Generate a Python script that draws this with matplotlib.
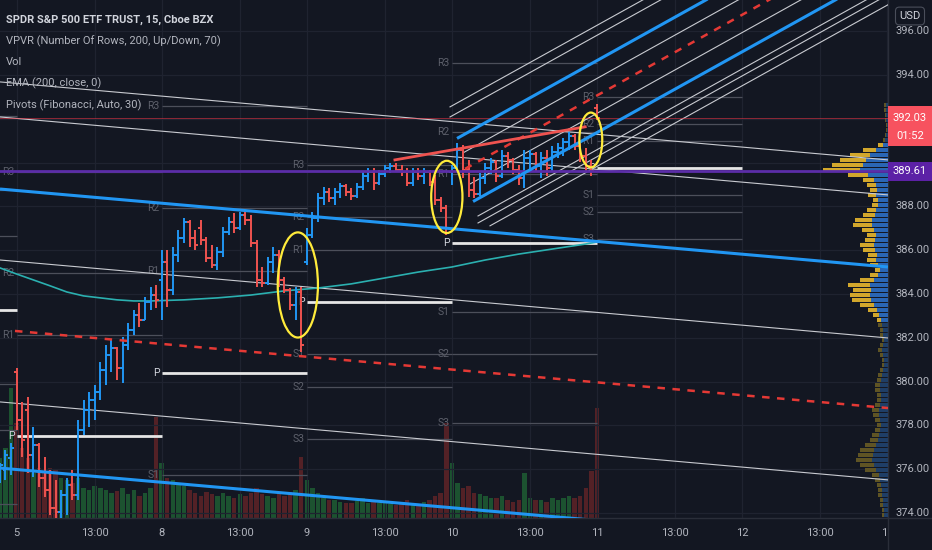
import numpy as np
import matplotlib.pyplot as plt
import matplotlib.transforms as mtransforms
from matplotlib.patches import Ellipse, Rectangle
from matplotlib.lines import Line2D

plt.rcParams['font.family'] = ['Roboto', 'DejaVu Sans']

BG = '#131722'
BAR_UP = '#2196f3'
BAR_DN = '#ef5350'
TXT = '#b2b5be'

# ---- 15 min OHLC bars, bar index 0 = first bar of the 5th ----
bar_index = list(range(-3, 105))
bar_open = [375.60, 375.96, 376.51,
            380.44, 378.25, 378.70, 376.65, 377.11, 375.60, 375.05, 374.23, 374.05, 374.82,
            375.28, 374.82, 377.79, 378.70, 379.16, 379.52, 380.53, 381.21, 381.53, 380.62,
            381.67, 382.36, 383.04, 382.81, 383.63, 383.95,
            384.64, 385.46, 384.18, 385.78, 386.56, 387.29, 386.56, 387.01, 386.47, 385.64,
            385.32, 385.92, 386.83, 387.29, 387.01, 387.61, 387.38, 386.33, 384.64, 384.50,
            385.46, 385.78, 384.64, 384.18, 383.50, 384.09,
            385.46, 386.69, 387.47, 388.38, 388.66, 388.38, 388.66, 388.93, 388.66, 388.47,
            388.89, 389.39, 389.57, 389.07, 389.48, 389.75, 389.84, 389.66, 389.57, 389.07,
            389.57, 389.39, 389.57, 389.11, 388.29, 387.93,
            389.57, 389.75, 390.57, 389.66, 388.75, 388.57, 389.30, 389.75, 390.03, 389.39,
            390.30, 390.12, 389.66, 389.30, 390.21, 390.39, 389.84, 390.21, 389.75, 390.48,
            390.67, 390.94, 391.21, 390.76, 390.30, 389.84, 392.49]
bar_high = [376.28, 376.88, 377.20,
            380.62, 379.07, 379.30, 377.93, 377.20, 376.56, 375.96, 375.51, 375.05, 375.60,
            375.96, 378.25, 379.16, 379.52, 379.84, 380.89, 381.67, 381.90, 381.58, 382.04,
            382.68, 383.27, 383.59, 383.86, 384.32, 384.41,
            386.01, 386.01, 386.15, 386.92, 387.47, 387.38, 386.92, 387.38, 386.60, 386.24,
            386.15, 387.06, 387.52, 387.70, 387.74, 387.84, 387.61, 386.47, 385.23, 385.69,
            386.15, 386.01, 384.78, 384.27, 384.32, 384.32,
            387.01, 387.74, 388.61, 388.89, 388.84, 388.84, 389.07, 389.02, 388.84, 389.07,
            389.57, 389.75, 389.75, 389.66, 389.89, 389.98, 389.98, 389.89, 389.75, 389.75,
            389.75, 389.75, 389.66, 389.43, 388.43, 388.06,
            389.89, 390.89, 390.80, 390.12, 389.34, 389.53, 389.98, 390.21, 390.12, 390.57,
            390.48, 390.21, 389.89, 390.57, 390.57, 390.48, 390.48, 390.57, 390.76, 390.89,
            391.12, 391.40, 391.31, 390.94, 390.67, 390.12, 392.68]
bar_low = [375.37, 375.51, 375.73,
           377.79, 376.56, 375.83, 375.64, 375.19, 374.73, 373.91, 373.45, 373.22, 373.91,
           374.59, 374.59, 377.56, 377.93, 378.25, 379.16, 379.84, 380.44, 380.07, 379.94,
           381.44, 382.13, 382.49, 382.81, 383.27, 383.36,
           382.81, 383.41, 383.95, 385.46, 386.33, 386.15, 386.01, 386.24, 385.46, 385.19,
           385.10, 385.69, 386.69, 386.79, 386.92, 387.15, 386.15, 384.32, 384.32, 384.41,
           384.96, 384.32, 384.05, 383.27, 382.81, 381.35,
           385.32, 386.56, 387.29, 388.06, 388.20, 388.06, 388.38, 388.47, 388.29, 388.38,
           388.75, 389.11, 388.75, 388.98, 389.34, 389.53, 389.57, 389.39, 388.93, 388.93,
           389.21, 389.02, 388.93, 388.06, 387.74, 386.69,
           388.98, 389.57, 389.30, 388.43, 388.38, 388.47, 389.02, 389.48, 389.11, 389.30,
           389.75, 389.48, 388.98, 388.84, 389.57, 389.57, 389.30, 389.39, 389.57, 390.21,
           390.30, 390.57, 390.57, 390.03, 389.57, 389.39, 391.95]
bar_close = [376.19, 376.65, 376.97,
             378.25, 377.33, 376.65, 377.11, 375.60, 375.05, 374.23, 374.05, 374.82, 375.28,
             374.82, 377.79, 378.70, 379.16, 379.52, 380.53, 381.21, 381.53, 380.62, 381.67,
             382.36, 383.04, 382.81, 383.63, 383.95, 383.73,
             385.46, 384.18, 385.78, 386.56, 387.29, 386.56, 386.24, 386.47, 385.64, 385.32,
             385.92, 386.83, 387.29, 387.01, 387.61, 387.38, 386.33, 384.64, 384.50, 385.46,
             385.78, 384.64, 384.18, 383.50, 384.09, 381.67,
             386.69, 387.47, 388.38, 388.66, 388.38, 388.66, 388.93, 388.66, 388.47, 388.89,
             389.39, 389.57, 389.07, 389.48, 389.75, 389.84, 389.66, 389.57, 389.07, 389.57,
             389.39, 389.57, 389.11, 388.29, 387.93, 387.01,
             389.75, 390.57, 389.66, 388.75, 388.57, 389.30, 389.75, 390.03, 389.39, 390.30,
             390.12, 389.66, 389.30, 390.21, 390.39, 389.84, 390.21, 389.75, 390.48, 390.67,
             390.94, 391.21, 390.76, 390.30, 389.84, 389.62, 392.03]
# volume in thousands of shares
volume = [1800, 2100, 3900,
          2850, 2100, 1800, 1350, 1500, 1350, 1500, 1440, 1200, 1140,
          1050, 1200, 900, 840, 960, 900, 840, 750, 810, 900,
          720, 840, 660, 750, 900, 3030,
          1650, 1200, 1140, 1050, 960, 840, 750, 660, 780, 720,
          660, 750, 660, 600, 720, 660, 750, 900, 720, 660,
          600, 750, 660, 780, 840, 1830,
          1140, 900, 750, 600, 540, 540, 480, 450, 450, 510,
          600, 450, 540, 450, 480, 420, 390, 420, 540, 450,
          420, 480, 540, 660, 750, 2850,
          1650, 1050, 900, 960, 750, 720, 660, 600, 600, 660,
          540, 480, 540, 1350, 600, 540, 540, 480, 600, 540,
          600, 660, 600, 660, 900, 1410, 3300]

# EMA 200 read at some bars
ema_index = [-3, 0, 3, 6, 9, 12, 15, 18, 21, 24, 30, 36, 42, 48, 54, 60, 66, 72, 78, 84, 90, 96, 102, 104]
ema_value = [385.19, 384.91, 384.64, 384.37, 384.09, 383.91, 383.82, 383.73, 383.68, 383.68, 383.73, 383.82,
             383.95, 384.14, 384.27, 384.46, 384.73, 385.00, 385.23, 385.55, 385.82, 386.05, 386.28, 386.37]

# Fibonacci pivots per session
piv_start = [-26, 0, 26, 52, 78, 104]
piv_p = [383.27, 377.52, 380.39, 383.63, 386.33, 389.75]
piv_range = [8.86, 12.05, 12.19, 6.26, 8.22, 3.24]
piv_names = ['R3', 'R2', 'R1', 'P', 'S1', 'S2', 'S3']
piv_mult = [1.0, 0.618, 0.382, 0.0, -0.382, -0.618, -1.0]

# visible range volume profile (up / down), rows from top
vp_up = [2, 2, 2, 2, 1, 1, 2, 3, 5, 12, 18, 22, 25, 28, 20, 14, 12, 11, 12, 10, 10, 12, 13, 16, 16, 14,
         12, 13, 14, 13, 11, 12, 10, 8, 10, 14, 18, 17, 18, 17, 14, 11, 9, 7, 6, 5, 5, 4, 5, 6, 5, 4,
         4, 5, 6, 7, 8, 8, 7, 7, 8, 9, 9, 8, 7, 8, 9, 10, 12, 14, 15, 16, 14, 12, 9, 8, 7, 6, 6, 5, 5, 4, 4]
vp_down = [2, 2, 1, 1, 1, 1, 1, 2, 5, 13, 20, 26, 31, 37, 20, 11, 9, 7, 8, 5, 6, 9, 12, 17, 19, 12,
           9, 10, 14, 12, 9, 9, 8, 5, 8, 14, 22, 18, 20, 19, 14, 9, 6, 4, 4, 3, 3, 2, 3, 4, 3, 2,
           2, 3, 4, 4, 5, 5, 4, 4, 5, 7, 6, 5, 4, 5, 7, 8, 11, 14, 15, 16, 14, 11, 7, 5, 4, 4, 4, 3, 3, 2, 2]
vp_top = 392.63
vp_row = 0.2283
va_low, va_high = 382.75, 390.85

# drawings: ((bar, price), (bar, price))
fall_blue = [((-2.975, 388.79), (156.16, 385.23)), ((-2.975, 376.05), (156.16, 372.49))]
fall_white = [((-2.975, 393.68), (156.16, 390.12)), ((-2.975, 392.08), (156.16, 388.52)),
              ((-2.975, 385.55), (156.16, 381.99)), ((-2.975, 379.07), (156.16, 375.51))]
fall_mid = ((-0.29, 382.31), (156.16, 378.79))
rise_blue = [((78.93, 391.10), (130.0, 398.34)), ((81.8, 388.22), (153.2, 398.34))]
rise_mid = ((80.36, 389.71), (141.29, 398.34))
rise_white = [((77.67, 392.54), (118.7, 398.34)), ((77.67, 392.08), (121.9, 398.34)),
              ((80.0, 390.44), (135.8, 398.34)), ((81.25, 389.02), (147.0, 398.34)),
              ((82.69, 387.56), (163.7, 399.05)), ((82.69, 387.24), (163.7, 398.73)),
              ((84.84, 387.11), (163.7, 398.27))]
red_trend = ((67.8, 390.12), (101.9, 391.63))
circles = [(50.4, 384.41, 7.2, 4.8), (77.1, 388.43, 5.6, 3.3), (102.9, 391.03, 4.1, 2.5)]
hline_price = 389.61
last_price = 392.03

price_ticks = [374, 376, 378, 380, 382, 384, 386, 388, 390, 392, 394, 396]
time_labels = ['5', '13:00', '8', '13:00', '9', '13:00', '10', '13:00', '11', '13:00', '12', '13:00', '15']
time_index = [0, 14, 26, 40, 52, 66, 78, 92, 104, 118, 130, 144, 156]

# ---- figure ----
W, H = 932, 550
fig = plt.figure(figsize=(W / 100, H / 100), dpi=100, facecolor=BG)
ax = fig.add_axes([0, 32 / H, 888 / W, 518 / H])
ax_vol = ax.twinx()
ax.set_zorder(2)
ax_vol.set_zorder(1)
ax.patch.set_visible(False)
ax_vol.patch.set_visible(False)
XMIN, XMAX = -2.975, 156.16
YMIN, YMAX = 373.77, 397.42
ax.set_xlim(XMIN, XMAX)
ax.set_ylim(YMIN, YMAX)
ax.axis('off')
ax_vol.axis('off')

idx = np.array(bar_index)
o, h, l, c = (np.array(a) for a in (bar_open, bar_high, bar_low, bar_close))
up = c >= o

# volume
ax_vol.bar(idx, volume, width=0.8, color=np.where(up, '#1c5230', '#532126'), linewidth=0)
ax_vol.set_ylim(0, 15540)

# grid
for p in price_ticks:
    ax.axhline(p, color='#1f2330', lw=0.9, zorder=0.5)
for t in time_index:
    ax.axvline(t, color='#1f2330', lw=0.9, zorder=0.5)

# pivots
for start, p, rng in zip(piv_start, piv_p, piv_range):
    for name, k in zip(piv_names, piv_mult):
        lvl = p + k * rng
        if name == 'P':
            ax.hlines(lvl, start, start + 26, color='#e6e6e6', lw=2.0, zorder=1.2)
            col = '#d1d4dc'
        else:
            ax.hlines(lvl, start, start + 26, color='#4c4f5a', lw=0.9, zorder=1.1)
            col = '#5d606b'
        if start - 0.4 > XMIN and YMIN + 0.2 < lvl < YMAX - 0.2:
            ax.text(start - 0.4, lvl, name, ha='right', va='center', fontsize=7.5, color=col,
                    clip_on=True, zorder=1.3)

# channel drawings
for (a, b) in fall_white + rise_white:
    ax.plot([a[0], b[0]], [a[1], b[1]], color='#c9cbd1', lw=0.8, zorder=2)
for (a, b) in fall_blue + rise_blue:
    ax.plot([a[0], b[0]], [a[1], b[1]], color='#2196f3', lw=2.2, zorder=4, solid_capstyle='butt')
for (a, b) in (fall_mid, rise_mid):
    ax.plot([a[0], b[0]], [a[1], b[1]], color='#e53935', lw=1.8, ls=(0, (3, 3)), zorder=4)
ax.plot([red_trend[0][0], red_trend[1][0]], [red_trend[0][1], red_trend[1][1]],
        color='#f05350', lw=2.0, zorder=4)

# EMA
ax.plot(ema_index, ema_value, color='#2bb0b0', lw=1.2, zorder=2.5)

# price line and horizontal line
ax.axhline(last_price, color='#f23645', lw=0.7, alpha=0.55, zorder=2)
ax.axhline(hline_price, color='#5b2da8', lw=2.0, zorder=3.5)

# OHLC bars
cols = np.where(up, BAR_UP, BAR_DN)
ax.vlines(idx, l, h, colors=cols, lw=1.4, zorder=3)
ax.hlines(o, idx - 0.5, idx, colors=cols, lw=1.4, zorder=3)
ax.hlines(c, idx, idx + 0.5, colors=cols, lw=1.4, zorder=3)

# hand drawn circles
for cx, cy, w, hh in circles:
    ax.add_patch(Ellipse((cx, cy), w, hh, fill=False, ec='#ffeb3b', lw=1.6, zorder=5))

# volume profile
ax_vp = ax.inset_axes([1 - 100 / 888, 0, 100 / 888, 1], zorder=1.5)
ax_vp.set_xlim(100, 0)
ax_vp.set_ylim(ax.get_ylim())
ax_vp.axis('off')
vp_price = vp_top - vp_row * np.arange(len(vp_up))
vp_tot = np.array(vp_up) + np.array(vp_down)
in_va = (vp_price >= va_low) & (vp_price <= va_high)
ax_vp.barh(vp_price, vp_tot, height=vp_row * 0.75, color=np.where(in_va, '#d2a72c', '#5f5424'), lw=0)
ax_vp.barh(vp_price, vp_up, height=vp_row * 0.75, color=np.where(in_va, '#2a66b4', '#1f3e66'), lw=0)

# ---- axes decorations ----
fig.add_artist(Line2D([888 / W, 888 / W], [0, 1], color='#2a2e39', lw=1))
fig.add_artist(Line2D([0, 1], [32 / H, 32 / H], color='#2a2e39', lw=1))

ytr = ax.get_yaxis_transform()
for p in price_ticks:
    # the two ticks under the price boxes are hidden in the reference
    if abs(p - last_price) < 0.5 or abs(p - hline_price) < 0.5:
        continue
    ax.text(1 + 8 / 888, p, f'{p:.2f}', transform=ytr, ha='left', va='center',
            fontsize=8, color=TXT, clip_on=False)

ppx = 518 / (YMAX - YMIN)
ax.add_patch(Rectangle((1.0, last_price - 28 / ppx), 44 / 888, 40 / ppx, transform=ytr,
                       fc='#f7525f', ec='none', clip_on=False, zorder=10))
ax.text(1 + 22 / 888, last_price, f'{last_price:.2f}', transform=ytr, ha='center', va='center',
        fontsize=8, color='white', clip_on=False, zorder=11)
ax.text(1 + 22 / 888, last_price - 18 / ppx, '01:52', transform=ytr, ha='center', va='center',
        fontsize=8, color='white', clip_on=False, zorder=11)
ax.add_patch(Rectangle((1.0, hline_price - 9.5 / ppx), 44 / 888, 19 / ppx, transform=ytr,
                       fc='#5c21a6', ec='none', clip_on=False, zorder=10))
ax.text(1 + 22 / 888, hline_price, f'{hline_price:.2f}', transform=ytr, ha='center', va='center',
        fontsize=8, color='white', clip_on=False, zorder=11)

fig.text(910 / W, 1 - 16 / H, 'USD', ha='center', va='center', fontsize=8, color='#d1d4dc',
         bbox=dict(boxstyle='round,pad=0.35', fc=BG, ec='#4a4e5a', lw=0.8), zorder=12)

xtr = ax.get_xaxis_transform()
clipbox = mtransforms.TransformedBbox(mtransforms.Bbox([[0, 0], [888 / W, 1]]), fig.transFigure)
for t, lab in zip(time_index, time_labels):
    txt = ax.text(t, -15 / 518, lab, transform=xtr, ha='center', va='center',
                  fontsize=8, color=TXT, clip_on=True)
    txt.set_clip_box(clipbox)

legend_lines = ['SPDR S&P 500 ETF TRUST, 15, Cboe BZX', 'VPVR (Number Of Rows, 200, Up/Down, 70)',
                'Vol', 'EMA (200, close, 0)', 'Pivots (Fibonacci, Auto, 30)']
for k, s in enumerate(legend_lines):
    fig.text(6 / W, 1 - (20 + 21.2 * k) / H, s, ha='left', va='center', fontsize=8,
             color='#d1d4dc' if k == 0 else TXT, fontweight='bold' if k == 0 else 'normal', zorder=12)

fig.savefig('out.png', dpi=100, facecolor=BG)
